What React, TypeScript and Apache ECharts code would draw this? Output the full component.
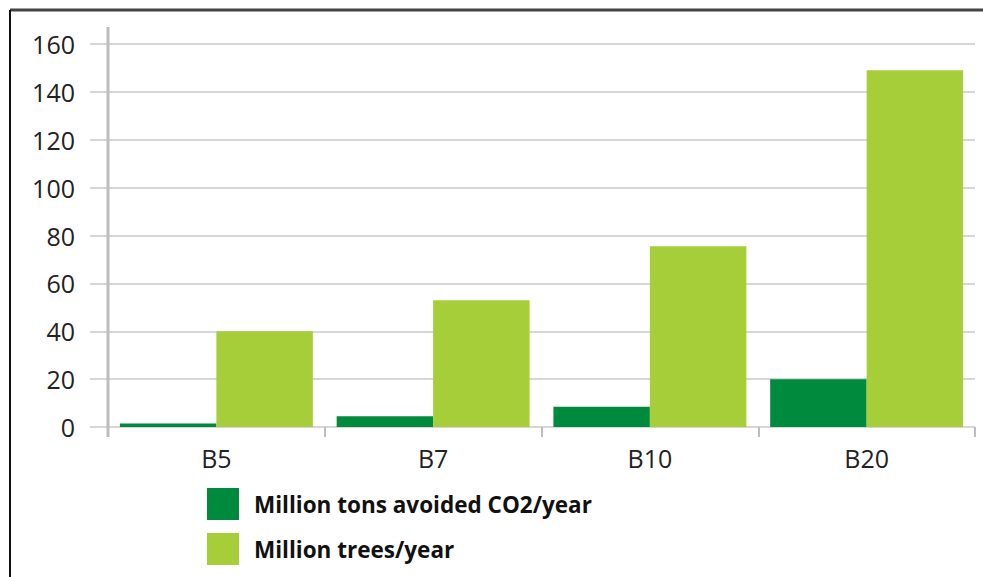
import React, { useEffect, useRef } from "react";
import * as echarts from "echarts";

const categories = ["B5", "B7", "B10", "B20"];
const co2Values = [1.5, 4.5, 8.5, 20];
const treeValues = [40, 53, 75.5, 149];
const seriesNames = ["Million tons avoided CO2/year", "Million trees/year"];

export default function App() {
  const ref = useRef<HTMLDivElement>(null);
  useEffect(() => {
    document.body.style.margin = "0";
    const chart = echarts.init(ref.current!, null, { renderer: "svg" });
    chart.setOption({
      animation: false,
      backgroundColor: "#ffffff",
      textStyle: { fontFamily: "Open Sans" },
      grid: { left: 108, right: 8, top: 44, bottom: 150, containLabel: false },
      legend: {
        orient: "vertical",
        left: 207,
        top: 488,
        padding: 0,
        itemWidth: 32,
        itemHeight: 32,
        itemGap: 13,
        icon: "rect",
        data: seriesNames,
        textStyle: {
          fontFamily: "Open Sans",
          fontWeight: "bold",
          fontSize: 22.5,
          color: "#111",
          padding: [0, 0, 0, 10],
        },
      },
      xAxis: {
        type: "category",
        data: categories,
        axisLine: { show: false },
        axisTick: {
          show: true,
          alignWithLabel: false,
          length: 10,
          lineStyle: { color: "#bdbdbd", width: 2 },
        },
        axisLabel: { fontSize: 25, color: "#222", margin: 18 },
      },
      yAxis: {
        type: "value",
        min: 0,
        max: 160,
        interval: 20,
        axisLine: { show: false },
        axisTick: { show: true, length: 18, lineStyle: { color: "#d6d6d6", width: 2 } },
        axisLabel: { fontSize: 25, color: "#222", margin: 33 },
        splitLine: { lineStyle: { color: "#d6d6d6", width: 2 } },
      },
      series: [
        {
          name: seriesNames[0],
          type: "bar",
          data: co2Values,
          barGap: "0%",
          barCategoryGap: "11%",
          itemStyle: { color: "#008A3E" },
        },
        {
          name: seriesNames[1],
          type: "bar",
          data: treeValues,
          barGap: "0%",
          barCategoryGap: "11%",
          itemStyle: { color: "#A6CE39" },
        },
      ],
      graphic: [
        {
          type: "line",
          shape: { x1: 108, y1: 27, x2: 108, y2: 437 },
          style: { stroke: "#bdbdbd", lineWidth: 3 },
          z: 10,
        },
        {
          type: "line",
          shape: { x1: 10, y1: 10, x2: 983, y2: 10 },
          style: { stroke: "#444444", lineWidth: 3 },
        },
        {
          type: "line",
          shape: { x1: 10, y1: 10, x2: 10, y2: 577 },
          style: { stroke: "#111111", lineWidth: 2 },
        },
      ],
    });
    return () => chart.dispose();
  }, []);
  return (
    <div
      ref={ref}
      style={{ position: "absolute", left: 0, top: 0, width: 983, height: 577 }}
    />
  );
}
